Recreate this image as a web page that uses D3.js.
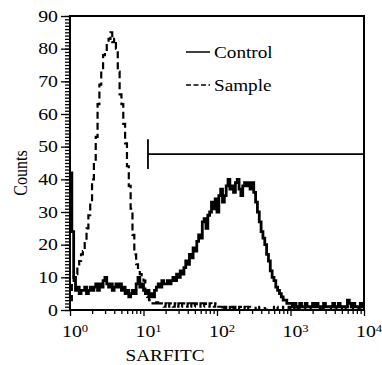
<!DOCTYPE html>
<html><head><meta charset="utf-8">
<script src="https://cdn.jsdelivr.net/npm/d3@7"></script>
<style>
body{margin:0;background:#fff}
svg{display:block}
svg text{font-family:"Liberation Serif";}
</style>
</head><body>
<svg id="c" width="382" height="365"></svg>
<script>
// ---- data ----
const xDecades = [1, 10, 100, 1000, 10000];
const xExponents = ["0", "1", "2", "3", "4"];
const yTickValues = [0, 10, 20, 30, 40, 50, 60, 70, 80, 90];
const channelsPerDecade = 40; // 160 log channels over 4 decades
const seriesNames = ["Control", "Sample"];
const controlCounts = [
  42,24,10,6,7,5,6,6,7,5,
  6,7,6,7,8,6,8,7,9,10,
  8,7,8,6,7,8,7,8,6,7,
  5,6,4,5,6,5,8,10,7,8,
  6,5,6,4,5,4,6,7,8,7,
  9,8,8,9,8,9,10,9,11,10,
  12,11,13,15,14,17,16,19,18,21,
  23,22,27,28,25,29,30,33,31,34,
  30,35,37,33,35,38,40,37,38,36,
  39,40,37,35,38,39,38,39,37,39,
  36,33,30,27,24,22,20,17,15,12,
  10,9,7,6,5,4,3,3,2,2,
  2,1,2,1,1,2,1,1,2,1,
  1,1,2,1,2,1,1,1,2,1,
  1,1,1,2,1,1,2,1,1,1,
  1,3,2,1,2,1,1,1,2,1
];
const sampleCounts = [
  3,8,10,11,13,15,17,18,21,25,
  29,33,40,46,53,63,69,74,78,79,
  82,83,85,82,83,80,73,66,63,57,
  51,44,38,31,23,17,14,12,11,10,
  9,6,4,3,2,2,2,3,2,2,
  2,1,2,1,2,2,1,2,1,2,
  1,2,2,1,2,1,2,1,2,1,
  1,2,1,2,1,1,2,1,1,2,
  1,1,1,
  0,1,0,0,1,0,1,0,0,1,
  0,0,1,0,1,0,0,0,1,0,
  1,0,0,1,0,0,0,1,0,1,
  0,0,1,0,0,0,1,0,0,1,
  0,1,0,0,0,1,0,0,1,0,
  0,0,1,0,1,0,0,0,1,0,
  0,1,0,0,0,1,0,1,0,0,
  0,1,0,0,1,0,0
];
const gateStart = 11.5, gateEnd = 10000, gateLevel = 47.7, gateLow = 43.2, gateHigh = 52.3;

// ---- layout ----
const svg = d3.select("#c");
const L = 70, R = 364, T = 16, B = 310;
const SX = 1.2; // horizontal stretch of the original typography
const x = d3.scaleLog().domain([1, 10000]).range([L, R]);
const y = d3.scaleLinear().domain([0, 90]).range([B, T]);

svg.append("defs").append("clipPath").attr("id", "clip")
  .append("rect").attr("x", L).attr("y", T).attr("width", R - L).attr("height", B - T);

function steps(counts) {
  const pts = counts.map((c, i) => ({ v: Math.pow(10, i / channelsPerDecade), c }));
  pts.push({ v: Math.pow(10, counts.length / channelsPerDecade), c: counts[counts.length - 1] });
  return pts;
}
const line = d3.line().x(d => x(d.v)).y(d => y(d.c)).curve(d3.curveStepAfter);

const plot = svg.append("g").attr("clip-path", "url(#clip)");
plot.append("path").datum(steps(sampleCounts)).attr("d", line)
  .attr("fill", "none").attr("stroke", "#000").attr("stroke-width", 2.2)
  .attr("stroke-dasharray", "7,4");
plot.append("path").datum(steps(controlCounts)).attr("d", line)
  .attr("fill", "none").attr("stroke", "#000").attr("stroke-width", 2.8)
  .attr("stroke-linejoin", "miter");

// gate marker
svg.append("line").attr("x1", x(gateStart)).attr("x2", x(gateEnd))
  .attr("y1", y(gateLevel)).attr("y2", y(gateLevel)).attr("stroke", "#000").attr("stroke-width", 1.8);
svg.append("line").attr("x1", x(gateStart)).attr("x2", x(gateStart))
  .attr("y1", y(gateLow)).attr("y2", y(gateHigh)).attr("stroke", "#000").attr("stroke-width", 1.8);

// axes ticks
const yMinor = svg.append("g").attr("transform", `translate(${L},0)`)
  .call(d3.axisLeft(y).tickValues(d3.range(0, 91, 1)).tickSize(5).tickFormat(""));
const yMajor = svg.append("g").attr("transform", `translate(${L},0)`)
  .call(d3.axisLeft(y).tickValues(yTickValues).tickSize(9).tickFormat(""));
const minorX = [];
xDecades.slice(0, -1).forEach(d => { for (let k = 2; k <= 9; k++) minorX.push(d * k); });
const xMinor = svg.append("g").attr("transform", `translate(0,${B})`)
  .call(d3.axisBottom(x).tickValues(minorX).tickSize(4).tickFormat(""));
const xMajor = svg.append("g").attr("transform", `translate(0,${B})`)
  .call(d3.axisBottom(x).tickValues(xDecades).tickSize(6).tickFormat(""));
[yMinor, yMajor, xMinor, xMajor].forEach(g => {
  g.select(".domain").remove();
  g.selectAll("line").attr("stroke", "#000").attr("stroke-width", 1.3);
});

// frame
svg.append("rect").attr("x", L).attr("y", T).attr("width", R - L).attr("height", B - T)
  .attr("fill", "none").attr("stroke", "#000").attr("stroke-width", 2);

function txt(tx, ty, size, anchor, extra) {
  return svg.append("text")
    .attr("transform", `translate(${tx},${ty}) scale(${SX},1)` + (extra || ""))
    .style("font-family", "'Liberation Serif'").attr("font-size", size)
    .attr("text-anchor", anchor).attr("fill", "#000");
}
// y tick labels
yTickValues.forEach(v => { txt(L - 12, y(v) + 5.5, 16.5, "end").text(v); });
// x tick labels
xDecades.forEach((v, i) => {
  const t = txt(x(v) - 8, B + 27, 16.5, "start");
  t.append("tspan").text("10");
  t.append("tspan").attr("font-size", 10.5).attr("dy", -5.5).text(xExponents[i]);
});
// axis titles
txt(165, 361, 16, "middle").text("SARFITC");
txt(27, 173, 16, "middle", " rotate(-90)").text("Counts");

// legend
const legY = [52, 85];
seriesNames.forEach((name, i) => {
  svg.append("line").attr("x1", 186).attr("x2", 210).attr("y1", legY[i]).attr("y2", legY[i])
    .attr("stroke", "#000").attr("stroke-width", 1.5)
    .attr("stroke-dasharray", i === 1 ? "5,2.5" : null);
  txt(214, legY[i] + 6, 16, "start").text(name);
});
</script>
</body></html>
